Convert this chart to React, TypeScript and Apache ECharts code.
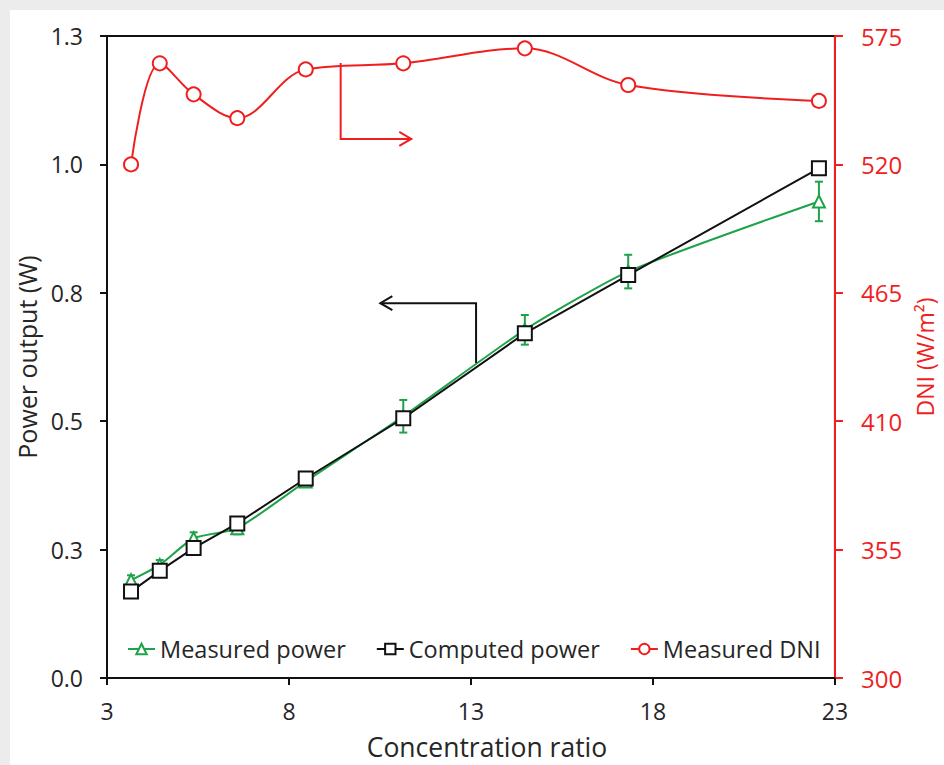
import React, { useEffect, useRef } from "react";
import * as echarts from "echarts";

// ---- data ----
const concentrationRatio = [3.66, 4.45, 5.38, 6.58, 8.46, 11.14, 14.48, 17.32, 22.56];
const measuredPower = [0.198, 0.229, 0.283, 0.303, 0.398, 0.53, 0.705, 0.823, 0.965];
const measuredPowerError = [0.01, 0.01, 0.012, 0.012, 0.01, 0.033, 0.03, 0.034, 0.04];
const computedPower = [0.175, 0.217, 0.263, 0.313, 0.404, 0.526, 0.698, 0.816, 1.032];
const measuredDNI = [520, 563.3, 550, 539.8, 560.7, 563.3, 569.7, 554, 547.2];

const xTicks = [3, 8, 13, 18, 23];
const powerTicks = [0, 0.26, 0.52, 0.78, 1.04, 1.3];
const dniTicks = [300, 355, 410, 465, 520, 575];

// annotation arrows, in data coordinates
const powerArrow = [[13.14, 0.638], [13.14, 0.759], [10.51, 0.759]];
const dniArrow = [[9.42, 563.4], [9.42, 530.9], [11.36, 530.9]];

const GREEN = "#1ea34a";
const RED = "#f01e1e";
const BLACK = "#111111";
const TEXT = "#262626";
const FONT = "Open Sans";

export default function App() {
  const ref = useRef<HTMLDivElement>(null);

  useEffect(() => {
    if (!ref.current) return;
    const chart = echarts.init(ref.current, undefined, { renderer: "svg" });

    const errData = concentrationRatio.map((x, i) => [
      x,
      measuredPower[i] - measuredPowerError[i],
      measuredPower[i] + measuredPowerError[i],
    ]);

    chart.setOption({
      animation: false,
      backgroundColor: "#ffffff",
      textStyle: { fontFamily: FONT },
      grid: {
        left: 107,
        right: 105,
        top: 36,
        bottom: 87,
        show: true,
        borderColor: BLACK,
        borderWidth: 2,
        backgroundColor: "transparent",
      },
      legend: {
        left: 122,
        top: 632,
        itemWidth: 27,
        itemHeight: 13,
        itemGap: 30,
        textStyle: { fontFamily: FONT, fontSize: 23.5, color: TEXT },
        data: ["Measured power", "Computed power", "Measured DNI"],
      },
      xAxis: {
        type: "value",
        min: 3,
        max: 23,
        name: "Concentration ratio",
        nameLocation: "middle",
        nameGap: 55,
        nameTextStyle: { fontFamily: FONT, fontSize: 26.5, color: TEXT, padding: [0, 0, 0, 32] },
        axisLine: { show: true, lineStyle: { color: BLACK, width: 2 } },
        axisTick: { show: true, length: 7, customValues: xTicks, lineStyle: { color: BLACK, width: 2 } },
        axisLabel: { customValues: xTicks, margin: 21, fontSize: 23, color: TEXT, fontFamily: FONT },
        splitLine: { show: false },
      },
      yAxis: [
        {
          type: "value",
          position: "left",
          min: 0,
          max: 1.3,
          name: "Power output (W)",
          nameLocation: "middle",
          nameGap: 57,
          nameTextStyle: { fontFamily: FONT, fontSize: 25, color: TEXT },
          axisLine: { show: true, lineStyle: { color: BLACK, width: 2 } },
          axisTick: { show: true, length: 7, customValues: powerTicks, lineStyle: { color: BLACK, width: 2 } },
          axisLabel: {
            customValues: powerTicks,
            margin: 24,
            fontSize: 23,
            color: TEXT,
            fontFamily: FONT,
            formatter: (v: number) => v.toFixed(1),
          },
          splitLine: { show: false },
        },
        {
          type: "value",
          position: "right",
          min: 300,
          max: 575,
          name: "DNI (W/m²)",
          nameLocation: "middle",
          nameGap: 70,
          nameTextStyle: { fontFamily: FONT, fontSize: 23, color: RED },
          axisLine: { show: true, lineStyle: { color: RED, width: 2 } },
          axisTick: { show: true, length: 8, customValues: dniTicks, lineStyle: { color: RED, width: 2 } },
          axisLabel: {
            customValues: dniTicks,
            margin: 26,
            fontSize: 24,
            color: RED,
            fontFamily: FONT,
          },
          splitLine: { show: false },
        },
      ],
      series: [
        {
          name: "Measured power",
          type: "line",
          yAxisIndex: 0,
          data: concentrationRatio.map((x, i) => [x, measuredPower[i]]),
          smooth: 0.2,
          symbol: "emptyTriangle",
          symbolSize: 12,
          lineStyle: { color: GREEN, width: 2 },
          itemStyle: { color: GREEN, borderWidth: 2 },
          z: 3,
        },
        {
          name: "Measured power err",
          type: "custom",
          yAxisIndex: 0,
          data: errData,
          encode: { x: 0, y: [1, 2] },
          renderItem: (params: any, api: any) => {
            const x = api.value(0);
            const lo = api.coord([x, api.value(1)]);
            const hi = api.coord([x, api.value(2)]);
            const w = 4;
            const style = { stroke: GREEN, lineWidth: 2 };
            return {
              type: "group",
              children: [
                { type: "line", shape: { x1: lo[0], y1: lo[1], x2: hi[0], y2: hi[1] }, style },
                { type: "line", shape: { x1: lo[0] - w, y1: lo[1], x2: lo[0] + w, y2: lo[1] }, style },
                { type: "line", shape: { x1: hi[0] - w, y1: hi[1], x2: hi[0] + w, y2: hi[1] }, style },
              ],
            };
          },
          z: 2,
        },
        {
          name: "Computed power",
          type: "line",
          yAxisIndex: 0,
          data: concentrationRatio.map((x, i) => [x, computedPower[i]]),
          symbol: "emptyRect",
          symbolSize: 14,
          lineStyle: { color: BLACK, width: 2 },
          itemStyle: { color: BLACK, borderWidth: 2 },
          z: 4,
        },
        {
          name: "Measured DNI",
          type: "line",
          yAxisIndex: 1,
          data: concentrationRatio.map((x, i) => [x, measuredDNI[i]]),
          smooth: 0.35,
          symbol: "emptyCircle",
          symbolSize: 14,
          lineStyle: { color: RED, width: 2 },
          itemStyle: { color: RED, borderWidth: 2 },
          z: 4,
        },
      ],
    });

    const toPx = (pts: number[][], yAxisIndex: number) =>
      pts.map((p) => chart.convertToPixel({ xAxisIndex: 0, yAxisIndex }, p) as number[]);

    const arrowHead = (pts: number[][]) => {
      const a = pts[pts.length - 2];
      const b = pts[pts.length - 1];
      const dx = b[0] - a[0];
      const dy = b[1] - a[1];
      const len = Math.hypot(dx, dy) || 1;
      const ux = dx / len, uy = dy / len;
      const L = 12, W = 7;
      return [
        [b[0] - ux * L - uy * W, b[1] - uy * L + ux * W],
        [b[0], b[1]],
        [b[0] - ux * L + uy * W, b[1] - uy * L - ux * W],
      ];
    };

    const pArrow = toPx(powerArrow, 0);
    const dArrow = toPx(dniArrow, 1);

    chart.setOption({
      graphic: [
        { id: "bgTop", type: "rect", shape: { x: 0, y: 0, width: 944, height: 10 }, style: { fill: "#ececec" }, silent: true },
        { id: "bgLeft", type: "rect", shape: { x: 0, y: 0, width: 10, height: 765 }, style: { fill: "#ececec" }, silent: true },
        { id: "pLine", type: "polyline", shape: { points: pArrow }, style: { stroke: BLACK, lineWidth: 2, fill: null }, z: 10 },
        { id: "pHead", type: "polyline", shape: { points: arrowHead(pArrow) }, style: { stroke: BLACK, lineWidth: 2, fill: null }, z: 10 },
        { id: "dLine", type: "polyline", shape: { points: dArrow }, style: { stroke: RED, lineWidth: 2, fill: null }, z: 10 },
        { id: "dHead", type: "polyline", shape: { points: arrowHead(dArrow) }, style: { stroke: RED, lineWidth: 2, fill: null }, z: 10 },
      ],
    });

    return () => chart.dispose();
  }, []);

  return (
    <div
      ref={ref}
      style={{ position: "fixed", left: 0, top: 0, width: 944, height: 765 }}
    />
  );
}
